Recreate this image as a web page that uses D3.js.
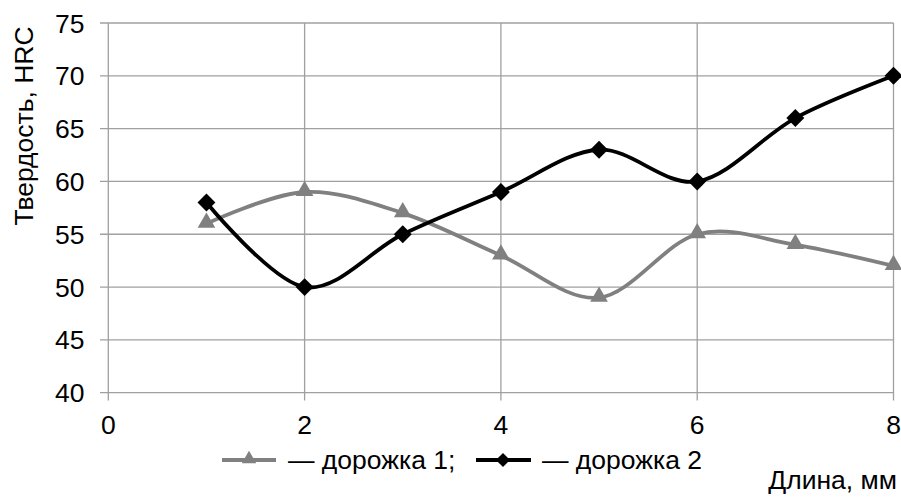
<!DOCTYPE html>
<html><head><meta charset="utf-8">
<script src="https://cdn.jsdelivr.net/npm/d3@7"></script>
<style>
html,body{margin:0;padding:0;background:#fff;}
svg{display:block;font-family:"Liberation Sans",Arial,sans-serif;}
</style></head>
<body>
<script>
const xValues = [1, 2, 3, 4, 5, 6, 7, 8];
const track1 = [56, 59, 57, 53, 49, 55, 54, 52];
const track2 = [58, 50, 55, 59, 63, 60, 66, 70];
const xTicks = [0, 2, 4, 6, 8];
const yTicks = [40, 45, 50, 55, 60, 65, 70, 75];
const seriesNames = ["— дорожка 1;", "— дорожка 2"];
const yTitle = "Твердость, HRC";
const xTitle = "Длина, мм";

const W = 901, H = 497;
const svg = d3.select("body").append("svg").attr("width", W).attr("height", H);
const x = d3.scaleLinear().domain([0, 8]).range([108.3, 893.5]);
const y = d3.scaleLinear().domain([40, 75]).range([392.7, 23]);
const grid = "#a0a0a0";
const fs = 26.5;

svg.append("g").selectAll("line").data(yTicks).join("line")
  .attr("x1", 100).attr("x2", x(8)).attr("y1", d => y(d)).attr("y2", d => y(d))
  .attr("stroke", grid).attr("stroke-width", 1.3);
svg.append("g").selectAll("line").data(xTicks).join("line")
  .attr("x1", d => x(d)).attr("x2", d => x(d)).attr("y1", y(75)).attr("y2", 400.5)
  .attr("stroke", grid).attr("stroke-width", 1.3);

svg.append("g").selectAll("text").data(yTicks).join("text")
  .attr("x", 84.5).attr("y", d => y(d)).attr("dy", "0.36em")
  .attr("text-anchor", "end").attr("font-size", fs).attr("fill", "#000").text(d => d);
svg.append("g").selectAll("text").data(xTicks).join("text")
  .attr("x", d => x(d)).attr("y", 434)
  .attr("text-anchor", "middle").attr("font-size", fs).attr("fill", "#000").text(d => d);

svg.append("text").attr("transform", "translate(33,126) rotate(-90)")
  .attr("text-anchor", "middle").attr("font-size", fs).attr("fill", "#000").text(yTitle);
svg.append("text").attr("x", 897).attr("y", 489).attr("text-anchor", "end")
  .attr("font-size", fs).attr("fill", "#000").text(xTitle);

const line = d3.line().x((d, i) => x(xValues[i])).y(d => y(d)).curve(d3.curveCardinal.tension(0));
const c1 = "#808080", c2 = "#000";
const tri = d3.symbol().type(d3.symbolTriangle);
const dia = d3.symbol().type(d3.symbolSquare);

svg.append("path").attr("d", line(track1)).attr("fill", "none").attr("stroke", c1).attr("stroke-width", 3.8);
svg.append("path").attr("d", line(track2)).attr("fill", "none").attr("stroke", c2).attr("stroke-width", 3.8);

svg.append("g").selectAll("path").data(track1).join("path")
  .attr("d", tri.size(135)())
  .attr("transform", (d, i) => `translate(${x(xValues[i])},${y(d) - 1})`).attr("fill", c1);
svg.append("g").selectAll("path").data(track2).join("path")
  .attr("d", dia.size(160)())
  .attr("transform", (d, i) => `translate(${x(xValues[i])},${y(d)}) rotate(45)`).attr("fill", c2);

const lg = svg.append("g");
lg.append("line").attr("x1", 222).attr("x2", 276).attr("y1", 460).attr("y2", 460).attr("stroke", c1).attr("stroke-width", 3.8);
lg.append("path").attr("d", tri.size(90)()).attr("transform", "translate(249,459)").attr("fill", c1);
lg.append("text").attr("x", 288).attr("y", 469).attr("font-size", fs).attr("fill", "#000").text(seriesNames[0]);
lg.append("line").attr("x1", 476).attr("x2", 531).attr("y1", 460).attr("y2", 460).attr("stroke", c2).attr("stroke-width", 3.8);
lg.append("path").attr("d", dia.size(100)()).attr("transform", "translate(503,460) rotate(45)").attr("fill", c2);
lg.append("text").attr("x", 542).attr("y", 469).attr("font-size", fs).attr("fill", "#000").text(seriesNames[1]);
</script>
</body></html>
